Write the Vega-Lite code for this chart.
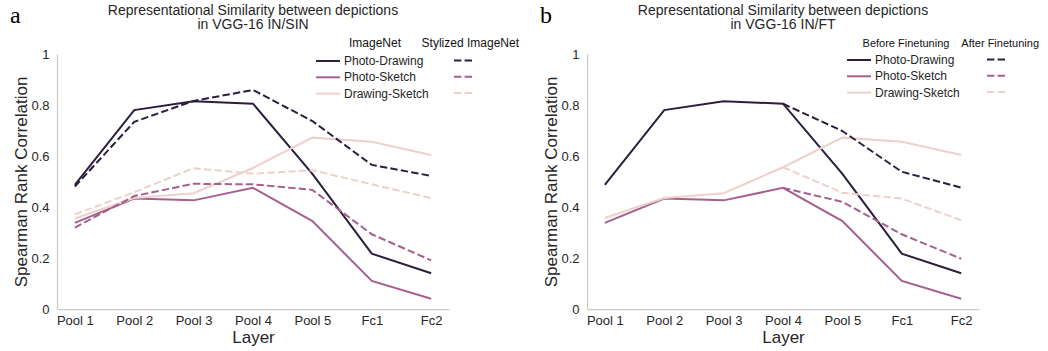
{
  "$schema": "https://vega.github.io/schema/vega-lite/v6.json",
  "padding": {"left": 9, "top": 3, "right": 2, "bottom": 2},
  "datasets": {
    "d": [
      {"panel": "a", "model": "ImageNet", "pair": "Photo-Drawing", "layer": "Pool 1", "value": 0.487},
      {"panel": "a", "model": "ImageNet", "pair": "Photo-Drawing", "layer": "Pool 2", "value": 0.78},
      {"panel": "a", "model": "ImageNet", "pair": "Photo-Drawing", "layer": "Pool 3", "value": 0.815},
      {"panel": "a", "model": "ImageNet", "pair": "Photo-Drawing", "layer": "Pool 4", "value": 0.805},
      {"panel": "a", "model": "ImageNet", "pair": "Photo-Drawing", "layer": "Pool 5", "value": 0.53},
      {"panel": "a", "model": "ImageNet", "pair": "Photo-Drawing", "layer": "Fc1", "value": 0.217},
      {"panel": "a", "model": "ImageNet", "pair": "Photo-Drawing", "layer": "Fc2", "value": 0.14},
      {"panel": "a", "model": "ImageNet", "pair": "Photo-Sketch", "layer": "Pool 1", "value": 0.338},
      {"panel": "a", "model": "ImageNet", "pair": "Photo-Sketch", "layer": "Pool 2", "value": 0.433},
      {"panel": "a", "model": "ImageNet", "pair": "Photo-Sketch", "layer": "Pool 3", "value": 0.426},
      {"panel": "a", "model": "ImageNet", "pair": "Photo-Sketch", "layer": "Pool 4", "value": 0.475},
      {"panel": "a", "model": "ImageNet", "pair": "Photo-Sketch", "layer": "Pool 5", "value": 0.345},
      {"panel": "a", "model": "ImageNet", "pair": "Photo-Sketch", "layer": "Fc1", "value": 0.11},
      {"panel": "a", "model": "ImageNet", "pair": "Photo-Sketch", "layer": "Fc2", "value": 0.04},
      {"panel": "a", "model": "ImageNet", "pair": "Drawing-Sketch", "layer": "Pool 1", "value": 0.355},
      {"panel": "a", "model": "ImageNet", "pair": "Drawing-Sketch", "layer": "Pool 2", "value": 0.435},
      {"panel": "a", "model": "ImageNet", "pair": "Drawing-Sketch", "layer": "Pool 3", "value": 0.454},
      {"panel": "a", "model": "ImageNet", "pair": "Drawing-Sketch", "layer": "Pool 4", "value": 0.553},
      {"panel": "a", "model": "ImageNet", "pair": "Drawing-Sketch", "layer": "Pool 5", "value": 0.672},
      {"panel": "a", "model": "ImageNet", "pair": "Drawing-Sketch", "layer": "Fc1", "value": 0.656},
      {"panel": "a", "model": "ImageNet", "pair": "Drawing-Sketch", "layer": "Fc2", "value": 0.604},
      {"panel": "a", "model": "Stylized ImageNet", "pair": "Photo-Drawing", "layer": "Pool 1", "value": 0.48},
      {"panel": "a", "model": "Stylized ImageNet", "pair": "Photo-Drawing", "layer": "Pool 2", "value": 0.734},
      {"panel": "a", "model": "Stylized ImageNet", "pair": "Photo-Drawing", "layer": "Pool 3", "value": 0.816},
      {"panel": "a", "model": "Stylized ImageNet", "pair": "Photo-Drawing", "layer": "Pool 4", "value": 0.859},
      {"panel": "a", "model": "Stylized ImageNet", "pair": "Photo-Drawing", "layer": "Pool 5", "value": 0.737},
      {"panel": "a", "model": "Stylized ImageNet", "pair": "Photo-Drawing", "layer": "Fc1", "value": 0.565},
      {"panel": "a", "model": "Stylized ImageNet", "pair": "Photo-Drawing", "layer": "Fc2", "value": 0.522},
      {"panel": "a", "model": "Stylized ImageNet", "pair": "Photo-Sketch", "layer": "Pool 1", "value": 0.319},
      {"panel": "a", "model": "Stylized ImageNet", "pair": "Photo-Sketch", "layer": "Pool 2", "value": 0.443},
      {"panel": "a", "model": "Stylized ImageNet", "pair": "Photo-Sketch", "layer": "Pool 3", "value": 0.491},
      {"panel": "a", "model": "Stylized ImageNet", "pair": "Photo-Sketch", "layer": "Pool 4", "value": 0.489},
      {"panel": "a", "model": "Stylized ImageNet", "pair": "Photo-Sketch", "layer": "Pool 5", "value": 0.467},
      {"panel": "a", "model": "Stylized ImageNet", "pair": "Photo-Sketch", "layer": "Fc1", "value": 0.293},
      {"panel": "a", "model": "Stylized ImageNet", "pair": "Photo-Sketch", "layer": "Fc2", "value": 0.191},
      {"panel": "a", "model": "Stylized ImageNet", "pair": "Drawing-Sketch", "layer": "Pool 1", "value": 0.371},
      {"panel": "a", "model": "Stylized ImageNet", "pair": "Drawing-Sketch", "layer": "Pool 2", "value": 0.458},
      {"panel": "a", "model": "Stylized ImageNet", "pair": "Drawing-Sketch", "layer": "Pool 3", "value": 0.552},
      {"panel": "a", "model": "Stylized ImageNet", "pair": "Drawing-Sketch", "layer": "Pool 4", "value": 0.531},
      {"panel": "a", "model": "Stylized ImageNet", "pair": "Drawing-Sketch", "layer": "Pool 5", "value": 0.544},
      {"panel": "a", "model": "Stylized ImageNet", "pair": "Drawing-Sketch", "layer": "Fc1", "value": 0.489},
      {"panel": "a", "model": "Stylized ImageNet", "pair": "Drawing-Sketch", "layer": "Fc2", "value": 0.435},
      {"panel": "b", "model": "Before Finetuning", "pair": "Photo-Drawing", "layer": "Pool 1", "value": 0.487},
      {"panel": "b", "model": "Before Finetuning", "pair": "Photo-Drawing", "layer": "Pool 2", "value": 0.78},
      {"panel": "b", "model": "Before Finetuning", "pair": "Photo-Drawing", "layer": "Pool 3", "value": 0.815},
      {"panel": "b", "model": "Before Finetuning", "pair": "Photo-Drawing", "layer": "Pool 4", "value": 0.805},
      {"panel": "b", "model": "Before Finetuning", "pair": "Photo-Drawing", "layer": "Pool 5", "value": 0.53},
      {"panel": "b", "model": "Before Finetuning", "pair": "Photo-Drawing", "layer": "Fc1", "value": 0.217},
      {"panel": "b", "model": "Before Finetuning", "pair": "Photo-Drawing", "layer": "Fc2", "value": 0.14},
      {"panel": "b", "model": "Before Finetuning", "pair": "Photo-Sketch", "layer": "Pool 1", "value": 0.338},
      {"panel": "b", "model": "Before Finetuning", "pair": "Photo-Sketch", "layer": "Pool 2", "value": 0.433},
      {"panel": "b", "model": "Before Finetuning", "pair": "Photo-Sketch", "layer": "Pool 3", "value": 0.426},
      {"panel": "b", "model": "Before Finetuning", "pair": "Photo-Sketch", "layer": "Pool 4", "value": 0.475},
      {"panel": "b", "model": "Before Finetuning", "pair": "Photo-Sketch", "layer": "Pool 5", "value": 0.345},
      {"panel": "b", "model": "Before Finetuning", "pair": "Photo-Sketch", "layer": "Fc1", "value": 0.11},
      {"panel": "b", "model": "Before Finetuning", "pair": "Photo-Sketch", "layer": "Fc2", "value": 0.04},
      {"panel": "b", "model": "Before Finetuning", "pair": "Drawing-Sketch", "layer": "Pool 1", "value": 0.357},
      {"panel": "b", "model": "Before Finetuning", "pair": "Drawing-Sketch", "layer": "Pool 2", "value": 0.435},
      {"panel": "b", "model": "Before Finetuning", "pair": "Drawing-Sketch", "layer": "Pool 3", "value": 0.454},
      {"panel": "b", "model": "Before Finetuning", "pair": "Drawing-Sketch", "layer": "Pool 4", "value": 0.556},
      {"panel": "b", "model": "Before Finetuning", "pair": "Drawing-Sketch", "layer": "Pool 5", "value": 0.672},
      {"panel": "b", "model": "Before Finetuning", "pair": "Drawing-Sketch", "layer": "Fc1", "value": 0.656},
      {"panel": "b", "model": "Before Finetuning", "pair": "Drawing-Sketch", "layer": "Fc2", "value": 0.604},
      {"panel": "b", "model": "After Finetuning", "pair": "Photo-Drawing", "layer": "Pool 4", "value": 0.805},
      {"panel": "b", "model": "After Finetuning", "pair": "Photo-Drawing", "layer": "Pool 5", "value": 0.698},
      {"panel": "b", "model": "After Finetuning", "pair": "Photo-Drawing", "layer": "Fc1", "value": 0.538},
      {"panel": "b", "model": "After Finetuning", "pair": "Photo-Drawing", "layer": "Fc2", "value": 0.476},
      {"panel": "b", "model": "After Finetuning", "pair": "Photo-Sketch", "layer": "Pool 4", "value": 0.475},
      {"panel": "b", "model": "After Finetuning", "pair": "Photo-Sketch", "layer": "Pool 5", "value": 0.42},
      {"panel": "b", "model": "After Finetuning", "pair": "Photo-Sketch", "layer": "Fc1", "value": 0.293},
      {"panel": "b", "model": "After Finetuning", "pair": "Photo-Sketch", "layer": "Fc2", "value": 0.197},
      {"panel": "b", "model": "After Finetuning", "pair": "Drawing-Sketch", "layer": "Pool 4", "value": 0.556},
      {"panel": "b", "model": "After Finetuning", "pair": "Drawing-Sketch", "layer": "Pool 5", "value": 0.456},
      {"panel": "b", "model": "After Finetuning", "pair": "Drawing-Sketch", "layer": "Fc1", "value": 0.433},
      {"panel": "b", "model": "After Finetuning", "pair": "Drawing-Sketch", "layer": "Fc2", "value": 0.348}
    ]
  },
  "hconcat": [
    {
      "title": {"text": "a", "anchor": "start", "font": "Liberation Serif", "fontSize": 24, "color": "#000000", "offset": -24, "dx": -3},
      "vconcat": [
        {
          "title": {"text": ["Representational Similarity between depictions", "in VGG-16 IN/SIN"], "offset": 6},
          "width": 392,
          "height": 255,
          "data": {"name": "d"},
          "transform": [{"filter": "datum.panel == 'a'"}],
          "encoding": {
            "x": {"field": "layer", "type": "ordinal", "sort": ["Pool 1", "Pool 2", "Pool 3", "Pool 4", "Pool 5", "Fc1", "Fc2"], "scale": {"type": "point", "padding": 0.3}, "axis": {"title": "Layer", "labelAngle": 0, "labelPadding": 5, "titlePadding": 2}},
            "y": {"field": "value", "type": "quantitative", "scale": {"domain": [0, 1], "nice": false}, "axis": {"title": "Spearman Rank Correlation", "values": [0, 0.2, 0.4, 0.6, 0.8, 1], "labelExpr": "datum.value == 0 ? '0' : datum.value == 1 ? '1' : format(datum.value, '.1f')", "labelPadding": 8, "titlePadding": 0}}
          },
          "layer": [
            {
              "transform": [{"filter": "datum.model == 'ImageNet'"}],
              "mark": {"type": "line", "strokeWidth": 2},
              "encoding": {
                "color": {"field": "pair", "type": "nominal", "scale": {"domain": ["Photo-Drawing", "Photo-Sketch", "Drawing-Sketch"], "range": ["#2d1e3e", "#a6608e", "#edd1cb"]},
                  "legend": {"title": "ImageNet", "orient": "none", "legendX": 264, "legendY": -16}}
              }
            },
            {
              "transform": [{"filter": "datum.model == 'Stylized ImageNet'"}],
              "mark": {"type": "line", "strokeWidth": 2, "strokeDash": [7.4, 3.2]},
              "encoding": {
                "color": {"field": "pair", "type": "nominal", "scale": {"domain": ["Photo-Drawing", "Photo-Sketch", "Drawing-Sketch"], "range": ["#2d1e3e", "#a6608e", "#edd1cb"]},
                  "legend": {"title": "Stylized ImageNet", "orient": "none", "legendX": 365, "legendY": -16, "titleAnchor": "end", "labelExpr": "'MMM'", "labelOpacity": 0, "labelOffset": 18, "symbolDash": [7.4, 3.2], "symbolSize": 110.25}}
              }
            }
          ],
          "resolve": {"scale": {"color": "independent"}}
        }
      ]
    },
    {
      "title": {"text": "b", "anchor": "start", "font": "Liberation Serif", "fontSize": 24, "color": "#000000", "offset": -24, "dx": -3},
      "vconcat": [
        {
          "title": {"text": ["Representational Similarity between depictions", "in VGG-16 IN/FT"], "offset": 6},
          "width": 392,
          "height": 255,
          "data": {"name": "d"},
          "transform": [{"filter": "datum.panel == 'b'"}],
          "encoding": {
            "x": {"field": "layer", "type": "ordinal", "sort": ["Pool 1", "Pool 2", "Pool 3", "Pool 4", "Pool 5", "Fc1", "Fc2"], "scale": {"type": "point", "padding": 0.3}, "axis": {"title": "Layer", "labelAngle": 0, "labelPadding": 5, "titlePadding": 2}},
            "y": {"field": "value", "type": "quantitative", "scale": {"domain": [0, 1], "nice": false}, "axis": {"title": "Spearman Rank Correlation", "values": [0, 0.2, 0.4, 0.6, 0.8, 1], "labelExpr": "datum.value == 0 ? '0' : datum.value == 1 ? '1' : format(datum.value, '.1f')", "labelPadding": 8, "titlePadding": 0}}
          },
          "layer": [
            {
              "transform": [{"filter": "datum.model == 'Before Finetuning'"}],
              "mark": {"type": "line", "strokeWidth": 2},
              "encoding": {
                "color": {"field": "pair", "type": "nominal", "scale": {"domain": ["Photo-Drawing", "Photo-Sketch", "Drawing-Sketch"], "range": ["#2d1e3e", "#a6608e", "#edd1cb"]},
                  "legend": {"title": "Before Finetuning", "titleFontSize": 11, "orient": "none", "legendX": 265, "legendY": -16}}
              }
            },
            {
              "transform": [{"filter": "datum.model == 'After Finetuning'"}],
              "mark": {"type": "line", "strokeWidth": 2, "strokeDash": [7.4, 3.2]},
              "encoding": {
                "color": {"field": "pair", "type": "nominal", "scale": {"domain": ["Photo-Drawing", "Photo-Sketch", "Drawing-Sketch"], "range": ["#2d1e3e", "#a6608e", "#edd1cb"]},
                  "legend": {"title": "After Finetuning", "titleFontSize": 11, "orient": "none", "legendX": 374, "legendY": -16, "titleAnchor": "end", "labelExpr": "'MM'", "labelOpacity": 0, "labelOffset": 15, "symbolDash": [7.4, 3.2], "symbolSize": 110.25}}
              }
            }
          ],
          "resolve": {"scale": {"color": "independent"}}
        }
      ]
    }
  ],
  "spacing": 20,
  "config": {
    "font": "Liberation Sans",
    "view": {"stroke": null},
    "title": {"fontSize": 14, "fontWeight": "normal", "color": "#262626", "lineHeight": 14.5, "anchor": "middle"},
    "axis": {"grid": false, "ticks": false, "domainColor": "#cccccc", "domainWidth": 1.25, "labelFontSize": 13, "labelColor": "#262626", "titleFontSize": 17, "titleFontWeight": "normal", "titleColor": "#262626"},
    "legend": {"labelFontSize": 12, "titleFontSize": 12, "titleFontWeight": "normal", "titleColor": "#111111", "labelColor": "#262626", "symbolType": "M-2,0H2", "symbolStrokeWidth": 2, "symbolSize": 144, "labelOffset": 9, "titleAnchor": "middle", "rowPadding": 3.3, "titlePadding": 4}
  }
}
